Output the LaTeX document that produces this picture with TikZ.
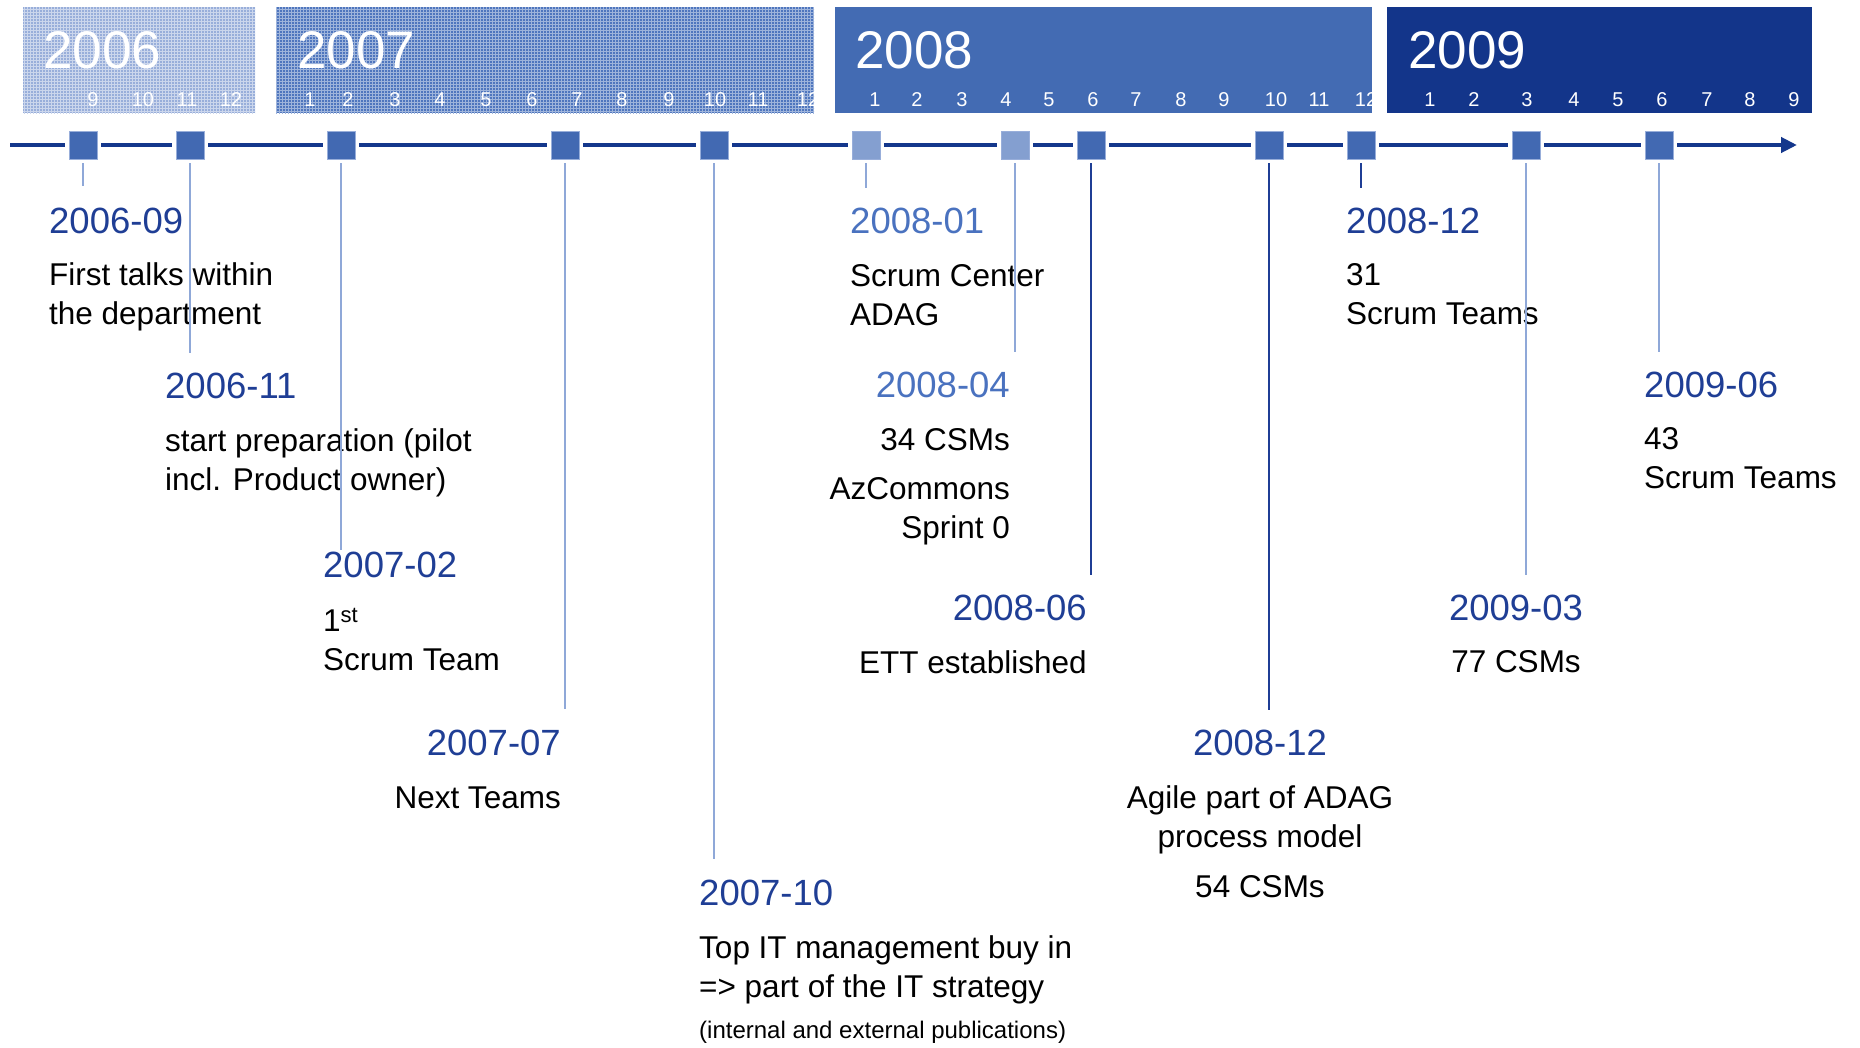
\documentclass[tikz,border=0pt]{standalone}
\usepackage{fontspec}
\setmainfont{Liberation Sans}
\usetikzlibrary{arrows.meta,patterns}
\definecolor{navy}{HTML}{14378C}
\definecolor{midblue}{HTML}{4269B2}
\definecolor{lightblue}{HTML}{849FD0}
\definecolor{stemblue}{HTML}{8FA8D8}
\definecolor{datecol}{HTML}{1F3E95}
\definecolor{datelight}{HTML}{4A72BF}
\definecolor{boxa}{HTML}{98AEDA}
\definecolor{boxb}{HTML}{4F76BE}
\definecolor{boxc}{HTML}{436BB3}
\definecolor{boxd}{HTML}{13358A}
\begin{document}
\begin{tikzpicture}[x=1pt, y=-1pt, event/.style = {shape=rectangle, draw=boxa, line width=1pt, fill=midblue, minimum size=28pt, inner sep=0pt, outer sep=4pt}, faded/.style = {event, fill=lightblue}, tline/.style = {draw=navy, line width=4pt}, stem/.style = {draw=stemblue, line width=2.5pt}, darkstem/.style = {draw=datecol, line width=2.5pt}, date/.style = {font=\fontsize{36.5}{40}\selectfont, text=datecol, inner sep=0pt}, lightdate/.style = {date, text=datelight}, desc/.style = {font=\fontsize{31.5}{38.5}\selectfont, inner sep=0pt}, note/.style = {font=\fontsize{24}{28}\selectfont, inner sep=0pt}, year/.style = {font=\fontsize{53}{60}\selectfont, text=white, inner sep=0pt, anchor=base west}, month/.style = {font=\fontsize{20}{24}\selectfont, text=white, inner sep=0pt, anchor=base}]
	\useasboundingbox (0,0) rectangle (1860,1047);
	\fill[boxa, postaction={pattern=grid, pattern color=white!50!boxa}] (23,7) rectangle (255,113);
	\fill[boxb, postaction={pattern=grid, pattern color=white!45!boxb}] (276,7) rectangle (814,113);
	\fill[boxc] (835,7) rectangle (1372,113);
	\fill[boxd] (1387,7) rectangle (1812,113);
	\node[year] (y2006) at (43,68) {2006};
	\node[year] (y2007) at (297,68) {2007};
	\node[year] (y2008) at (855,68) {2008};
	\node[year] (y2009) at (1408,68) {2009};
	\begin{scope}
		\clip (23,7) rectangle (255,113);
		\foreach \m/\x in {9/93,10/143,11/187,12/231}
			\node[month] (m06-\m) at (\x,106) {\m};
	\end{scope}
	\begin{scope}
		\clip (276,7) rectangle (814,113);
		\foreach \m/\x in {1/310,2/348,3/395,4/440,5/486,6/532,7/577,8/622,9/669,10/715,11/758,12/808}
			\node[month] (m07-\m) at (\x,106) {\m};
	\end{scope}
	\begin{scope}
		\clip (835,7) rectangle (1372,113);
		\foreach \m/\x in {1/875,2/917,3/962,4/1006,5/1049,6/1093,7/1136,8/1181,9/1224,10/1276,11/1319,12/1366}
			\node[month] (m08-\m) at (\x,106) {\m};
	\end{scope}
	\foreach \m/\x in {1/1430,2/1474,3/1527,4/1574,5/1618,6/1662,7/1707,8/1750,9/1794}
		\node[month] (m09-\m) at (\x,106) {\m};
	\node[date, anchor=base west] (d0609) at (49,233) {2006-09};
	\node[desc, anchor=base west, align=left] (t0609) at (49,324) {First talks within\\the department};
	\node[date, anchor=base west] (d0611) at (165,398) {2006-11};
	\node[desc, anchor=base west, align=left] (t0611) at (165,490) {start preparation (pilot\\incl. Product owner)};
	\node[date, anchor=base west] (d0702) at (323,577) {2007-02};
	\node[desc, anchor=base west, align=left] (t0702) at (323,670) {1\textsuperscript{st}\\Scrum Team};
	\node[date, anchor=base east] (d0707) at (561,755) {2007-07};
	\node[desc, anchor=base east] (t0707) at (561,808) {Next Teams};
	\node[date, anchor=base west] (d0710) at (699,905) {2007-10};
	\node[desc, anchor=base west, align=left] (t0710) at (699,997) {Top IT management buy in\\=> part of the IT strategy};
	\node[note, anchor=base west] (n0710) at (699,1038) {(internal and external publications)};
	\node[lightdate, anchor=base west] (d0801) at (850,233) {2008-01};
	\node[desc, anchor=base west, align=left] (t0801) at (850,325) {Scrum Center\\ADAG};
	\node[lightdate, anchor=base east] (d0804) at (1010,397) {2008-04};
	\node[desc, anchor=base east] (t0804) at (1010,450) {34 CSMs};
	\node[desc, anchor=base east, align=right] (n0804) at (1010,538) {AzCommons\\Sprint 0};
	\node[date, anchor=base east] (d0806) at (1087,620) {2008-06};
	\node[desc, anchor=base east] (t0806) at (1087,673) {ETT established};
	\node[date, anchor=base] (d0812b) at (1260,755) {2008-12};
	\node[desc, anchor=base, align=center] (t0812b) at (1260,847) {Agile part of ADAG\\process model};
	\node[desc, anchor=base] (n0812b) at (1260,897) {54 CSMs};
	\node[date, anchor=base west] (d0812) at (1346,233) {2008-12};
	\node[desc, anchor=base west, align=left] (t0812) at (1346,324) {31\\Scrum Teams};
	\node[date, anchor=base] (d0903) at (1516,620) {2009-03};
	\node[desc, anchor=base] (t0903) at (1516,672) {77 CSMs};
	\node[date, anchor=base west] (d0906) at (1644,397) {2009-06};
	\node[desc, anchor=base west, align=left] (t0906) at (1644,488) {43\\Scrum Teams};
	\foreach \n/\x/\st/\y/\sst in {1/83/event/186/stem, 2/190/event/353/stem, 3/341/event/550/stem, 4/565/event/709/stem, 5/714/event/859/stem, 6/866/faded/188/stem, 7/1015/faded/352/stem, 8/1091/event/575/darkstem, 9/1269/event/710/darkstem, 10/1361/event/188/darkstem, 11/1526/event/575/stem, 12/1659/event/352/stem} {
		\node[\st] (s\n) at (\x,145) {};
		\coordinate (e\n) at (\x,\y);
		\draw[\sst] (s\n) -- (e\n);
	}
	\coordinate (tstart) at (10,145);
	\coordinate (tend) at (1797,145);
	\draw[tline] (tstart) -- (s1);
	\foreach \a/\b in {1/2,2/3,3/4,4/5,5/6,6/7,7/8,8/9,9/10,10/11,11/12}
		\draw[tline] (s\a) -- (s\b);
	\draw[tline, -{Triangle[length=16pt, width=15pt]}] (s12) -- (tend);
\end{tikzpicture}
\end{document}
